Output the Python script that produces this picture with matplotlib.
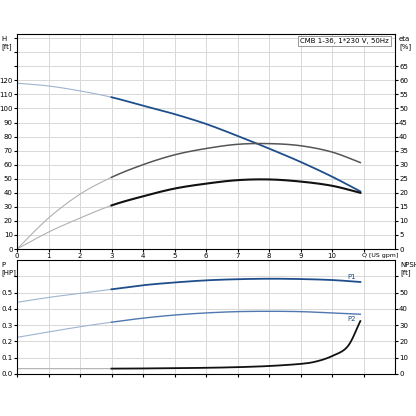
import matplotlib
matplotlib.use("Agg")
import matplotlib.pyplot as plt
import numpy as np

q = [0, 1, 2, 3, 4, 5, 6, 7, 8, 9, 10, 10.9]
head = [118, 116, 112.5, 108, 102, 96, 89, 80.5, 71.5, 62, 51.5, 41]
eta_total = [0, 11, 19.5, 25.5, 30, 33.5, 35.75, 37.25, 37.5, 36.75, 34.5, 30.75]
eta_pump = [0, 6, 11, 15.5, 18.75, 21.5, 23.25, 24.5, 24.75, 24, 22.5, 20]
p1 = [0.44, 0.47, 0.495, 0.52, 0.545, 0.562, 0.575, 0.582, 0.585, 0.583, 0.577, 0.565]
p2 = [0.225, 0.258, 0.29, 0.318, 0.343, 0.362, 0.375, 0.383, 0.385, 0.383, 0.375, 0.367]
npsh_q = [0, 3, 4, 5, 6, 7, 8, 9, 9.5, 10, 10.5, 10.9]
npsh = [3.3, 3.3, 3.4, 3.6, 3.8, 4.2, 4.9, 6.2, 7.7, 11, 17, 32.5]
title = "CMB 1-36, 1*230 V, 50Hz"

def smooth(x, y, n=20):
    # Catmull-Rom through the read points
    x = np.asarray(x, float); y = np.asarray(y, float)
    P = np.column_stack([x, y])
    P = np.vstack([2*P[0]-P[1], P, 2*P[-1]-P[-2]])
    out = []
    t = np.linspace(0, 1, n, endpoint=False)[:, None]
    for i in range(1, len(P)-2):
        p0, p1_, p2_, p3 = P[i-1], P[i], P[i+1], P[i+2]
        seg = 0.5*((2*p1_) + (-p0+p2_)*t + (2*p0-5*p1_+4*p2_-p3)*t**2 + (-p0+3*p1_-3*p2_+p3)*t**3)
        out.append(seg)
    out.append(P[-2][None, :])
    out = np.vstack(out)
    return out[:, 0], out[:, 1]

def split_plot(ax, x, y, c_light, c_dark, lw, xs_split=3):
    m1 = x <= xs_split + 1e-9; m2 = x >= xs_split - 1e-9
    ax.plot(x[m1], y[m1], color=c_light, lw=0.8)
    ax.plot(x[m2], y[m2], color=c_dark, lw=lw)

fig = plt.figure(figsize=(4.16, 4.16), dpi=100)
ax1 = fig.add_axes([17/416, 1-249/416, 378/416, 215/416])
ax2 = fig.add_axes([17/416, 1-374/416, 378/416, 114/416])
fs = 5
blue = "#1f4e8c"
for ax in (ax1, ax2):
    ax.set_xlim(0, 12)
    ax.set_xticks(range(0, 12))
    ax.grid(True, color="#d8d8d8", lw=0.7)
    ax.tick_params(labelsize=fs, length=2, pad=1)
    for s in ax.spines.values():
        s.set_color("#888888"); s.set_linewidth(0.6)

ax1.set_ylim(0, 153)
ax1.set_yticks(range(0, 151, 10))
ax1.set_yticklabels([str(v) if v <= 120 else "" for v in range(0, 151, 10)])
ax1.set_xticklabels([str(i) for i in range(11)] + [""])
ax1.text(10.95, -3, "Q [US gpm]", fontsize=4.5, ha="left", va="top")
ax1.text(0.003, 1 - 36/416, "H\n[ft]", transform=fig.transFigure, fontsize=fs, ha="left", va="top")
r1 = ax1.twinx()
r1.set_ylim(0, 153/2)
r1.set_yticks(range(0, 66, 5))
r1.tick_params(labelsize=fs, length=2, pad=1)
ax1.text(399/416, 1 - 36/416, "eta\n[%]", transform=fig.transFigure, fontsize=fs, ha="left", va="top")

x, y = smooth(q, head); split_plot(ax1, x, y, "#9fb4cf", blue, 1.3)
x, y = smooth(q, eta_total); split_plot(r1, x, y, "#b0b0b0", "#555555", 1.1)
x, y = smooth(q, eta_pump); split_plot(r1, x, y, "#b0b0b0", "#111111", 1.5)
ax1.text(11.8, 150, title, fontsize=fs, ha="right", va="top",
         bbox=dict(facecolor="white", edgecolor="#888888", lw=0.6, pad=1.5))

ax2.set_ylim(0, 0.7)
ax2.set_yticks(np.arange(0, 0.61, 0.1))
ax2.set_yticklabels(["0.0", "0.1", "0.2", "0.3", "0.4", "0.5", ""])
ax2.set_xticklabels([])
ax2.text(0.003, 1 - 262/416, "P\n[HP]", transform=fig.transFigure, fontsize=fs, ha="left", va="top")
r2 = ax2.twinx()
r2.set_ylim(0, 70)
r2.set_yticks(range(0, 61, 10))
r2.set_yticklabels(["0", "10", "20", "30", "40", "50", ""])
r2.tick_params(labelsize=fs, length=2, pad=1)
ax2.text(400/416, 1 - 262/416, "NPSH\n[ft]", transform=fig.transFigure, fontsize=fs, ha="left", va="top")

x, y = smooth(q, p1); split_plot(ax2, x, y, "#9fb4cf", blue, 1.3)
x, y = smooth(q, p2); split_plot(ax2, x, y, "#9fb4cf", "#4f78b0", 1.0)
x, y = smooth(npsh_q, npsh); split_plot(r2, x, y, "#b0b0b0", "#111111", 1.3)
ax2.text(10.75, 0.58, "P1", fontsize=fs, color=blue, ha="right", va="bottom")
ax2.text(10.75, 0.355, "P2", fontsize=fs, color=blue, ha="right", va="top")

fig.savefig("out.png", dpi=100)
